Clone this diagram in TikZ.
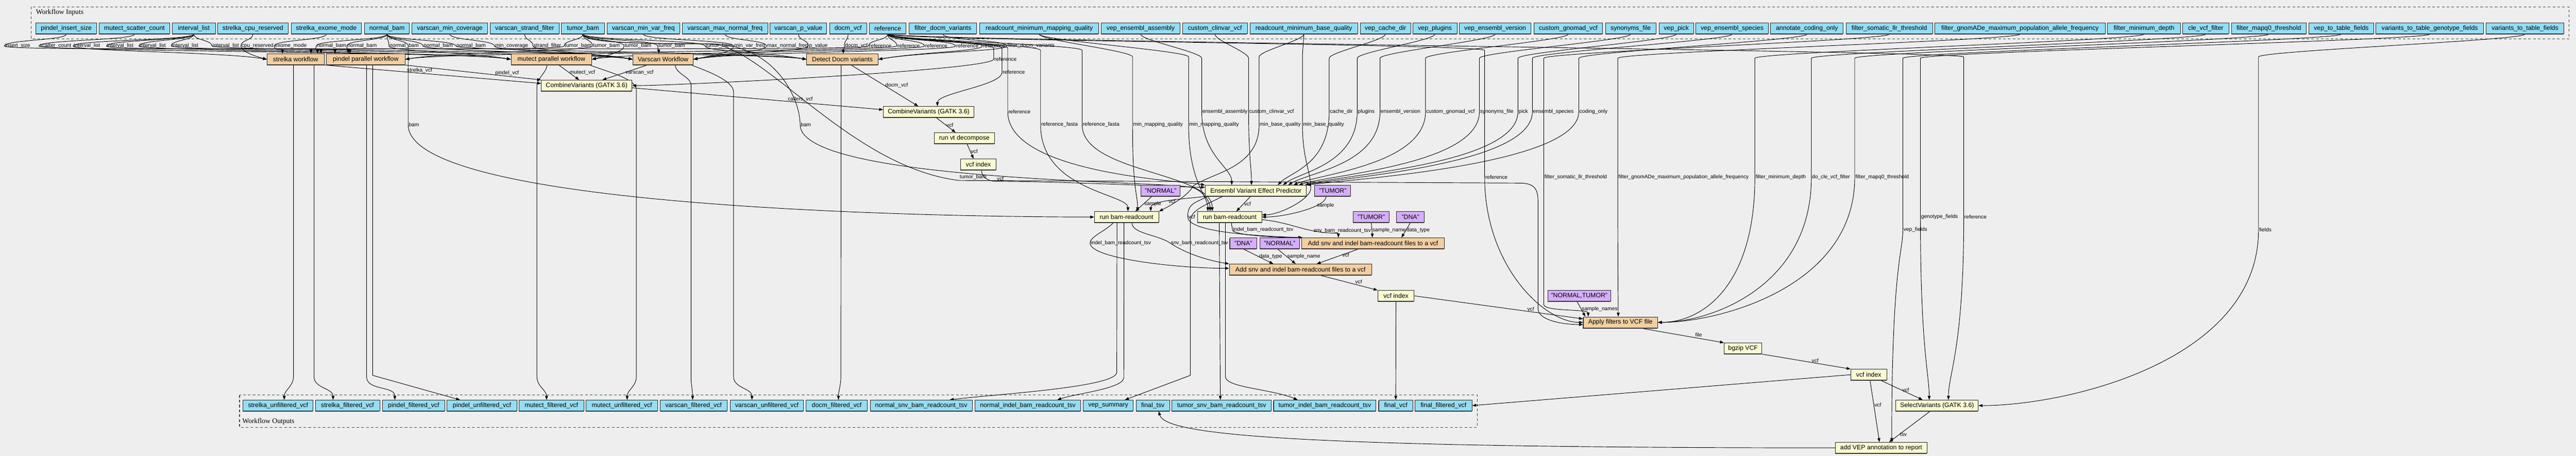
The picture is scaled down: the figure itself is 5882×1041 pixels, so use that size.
\documentclass[tikz,border=0pt]{standalone}
\usepackage{fontspec}
\setmainfont{Liberation Sans}
\newfontfamily\clusterfont{Liberation Serif}
\usetikzlibrary{arrows.meta,shadows}
\definecolor{bgc}{HTML}{EEEEEE}
\definecolor{inblue}{HTML}{94DDF4}
\definecolor{stepyel}{HTML}{FAFAD2}
\definecolor{subor}{HTML}{F3CEA1}
\definecolor{constpur}{HTML}{D5AEFC}
\pgfdeclarelayer{canvas}
\pgfdeclarelayer{wires}
\pgfsetlayers{canvas,wires,main}
\tikzset{
  box/.style={draw=black!85,line width=1.1pt,minimum height=25,inner sep=0pt,
    font=\fontsize{14.5}{16}\selectfont,
    drop shadow={shadow xshift=-0.6pt,shadow yshift=-1.6pt,fill=black!70,opacity=1}},
  inp/.style={box,fill=inblue},
  stepbox/.style={box,fill=stepyel},
  subwf/.style={box,fill=subor},
  constbox/.style={box,fill=constpur},
  conn/.style={line width=1.1pt,-{Stealth[length=9pt,width=6.5pt,inset=0pt]}},
  lab/.style={font=\fontsize{12}{13}\selectfont,inner sep=1pt,anchor=west},
  cluster/.style={draw=black!75,line width=1.3pt,dash pattern=on 6pt off 5pt},
  clab/.style={anchor=west,inner sep=2pt,font=\clusterfont\fontsize{16}{18}\selectfont}
}
\begin{document}
\begin{tikzpicture}[x=1pt,y=1pt]
\useasboundingbox (0,0) rectangle (5882,-1041);
\begin{pgfonlayer}{canvas}
\fill[bgc] (0,0) rectangle (5882,-1041);
\draw[cluster] (71,-15.7) rectangle (5866,-89);
\draw[cluster] (547,-902) rectangle (3373,-976);
\end{pgfonlayer}
\node[clab] (inlabel) at (80,-28) {Workflow Inputs};
\node[clab] (outlabel) at (551,-963) {Workflow Outputs};

% workflow inputs
\foreach \n/\xa/\xb/\txt in {ins/82/221/pindel\_insert\_size, msc/226/388/mutect\_scatter\_count,
  ivl/393/492/interval\_list, scr/497/658/strelka\_cpu\_reserved, sem/665/825/strelka\_exome\_mode,
  nbam/832/935/normal\_bam, vmc/941/1113/varscan\_min\_coverage, vsf/1119/1277/varscan\_strand\_filter,
  tbam/1282/1380/tumor\_bam, vmv/1386/1552/varscan\_min\_var\_freq, vmn/1558/1753/varscan\_max\_normal\_freq,
  vpv/1758/1888/varscan\_p\_value, dvcf/1894/1979/docm\_vcf, ref/1985/2069/reference,
  fdv/2076/2230/filter\_docm\_variants, rmq/2237/2509/readcount\_minimum\_mapping\_quality,
  vea/2515/2694/vep\_ensembl\_assembly, ccv/2700/2848/custom\_clinvar\_vcf,
  rbq/2854/3100/readcount\_minimum\_base\_quality, vcd/3106/3221/vep\_cache\_dir, vpl/3226/3327/vep\_plugins,
  vev/3332/3496/vep\_ensembl\_version, cgv/3503/3659/custom\_gnomad\_vcf, syn/3666/3781/synonyms\_file,
  vpk/3788/3867/vep\_pick, ves/3872/4038/vep\_ensembl\_species, aco/4043/4209/annotate\_coding\_only,
  fsl/4215/4413/filter\_somatic\_llr\_threshold, fga/4418/4807/filter\_gnomADe\_maximum\_population\_allele\_frequency,
  fmd/4812/4979/filter\_minimum\_depth, cle/4984/5089/cle\_vcf\_filter, fmq/5095/5266/filter\_mapq0\_threshold,
  vtf/5272/5420/vep\_to\_table\_fields, vgf/5425/5671/variants\_to\_table\_genotype\_fields,
  vff/5677/5854/variants\_to\_table\_fields}
  \node[inp,minimum width={\xb-\xa}] (\n) at ({(\xa+\xb)/2},-65) {\txt};

% workflow outputs
\foreach \n/\xa/\xb/\txt in {o1/555/715/strelka\_unfiltered\_vcf, o2/720/867/strelka\_filtered\_vcf,
  o3/873/1016/pindel\_filtered\_vcf, o4/1021/1180/pindel\_unfiltered\_vcf, o5/1185/1333/mutect\_filtered\_vcf,
  o6/1338/1502/mutect\_unfiltered\_vcf, o7/1507/1660/varscan\_filtered\_vcf, o8/1667/1835/varscan\_unfiltered\_vcf,
  o9/1841/1980/docm\_filtered\_vcf, o10/1987/2220/normal\_snv\_bam\_readcount\_tsv,
  o11/2226/2468/normal\_indel\_bam\_readcount\_tsv, o12/2473/2588/vep\_summary, o13/2594/2671/final\_tsv,
  o14/2676/2903/tumor\_snv\_bam\_readcount\_tsv, o15/2908/3142/tumor\_indel\_bam\_readcount\_tsv,
  o16/3148/3226/final\_vcf, o17/3231/3361/final\_filtered\_vcf}
  \node[inp,minimum width={\xb-\xa}] (\n) at ({(\xa+\xb)/2},-926) {\txt};

% steps
\node[subwf,minimum width=130] (strelka) at (675,-135.5) {strelka workflow};
\node[subwf,minimum width=180] (pindel) at (835,-135.5) {pindel parallel workflow};
\node[subwf,minimum width=184] (mutect) at (1259,-135.5) {mutect parallel workflow};
\node[subwf,minimum width=138] (varscan) at (1514,-135.5) {Varscan Workflow};
\node[subwf,minimum width=163] (docm) at (1923.5,-135.5) {Detect Docm variants};
\node[stepbox,minimum width=207] (combA) at (1339.5,-195.5) {CombineVariants (GATK 3.6)};
\node[stepbox,minimum width=207] (combB) at (2120.5,-255.5) {CombineVariants (GATK 3.6)};
\node[stepbox,minimum width=138] (decomp) at (2202,-315.5) {run vt decompose};
\node[stepbox,minimum width=82] (idxA) at (2234,-375.5) {vcf index};
\node[stepbox,minimum width=231] (vep) at (2867.5,-435.5) {Ensembl Variant Effect Predictor};
\node[constbox,minimum width=90] (cnA) at (2650,-435.5) {"NORMAL"};
\node[constbox,minimum width=82] (cnB) at (3043,-435.5) {"TUMOR"};
\node[stepbox,minimum width=147] (rcN) at (2572.5,-495.5) {run bam-readcount};
\node[stepbox,minimum width=146] (rcT) at (2808,-495.5) {run bam-readcount};
\node[constbox,minimum width=82] (cnC) at (3131,-495.5) {"TUMOR"};
\node[constbox,minimum width=63] (cnD) at (3220.5,-495.5) {"DNA"};
\node[subwf,minimum width=326] (addT) at (3135,-555.5) {Add snv and indel bam-readcount files to a vcf};
\node[constbox,minimum width=62] (cnE) at (2839,-555.5) {"DNA"};
\node[constbox,minimum width=90] (cnF) at (2922,-555.5) {"NORMAL"};
\node[subwf,minimum width=325] (addN) at (2969.5,-615.5) {Add snv and indel bam-readcount files to a vcf};
\node[stepbox,minimum width=83] (idxB) at (3187.5,-675.5) {vcf index};
\node[constbox,minimum width=144] (cnG) at (3606,-675.5) {"NORMAL,TUMOR"};
\node[subwf,minimum width=170] (filt) at (3700,-736) {Apply filters to VCF file};
\node[stepbox,minimum width=86] (bgz) at (3980,-795.5) {bgzip VCF};
\node[stepbox,minimum width=82] (idxC) at (4267,-855.5) {vcf index};
\node[stepbox,minimum width=188] (sel) at (4423,-926) {SelectVariants (GATK 3.6)};
\node[stepbox,minimum width=209] (rep) at (4295.5,-1022.5) {add VEP annotation to report};

\begin{pgfonlayer}{wires}
% inputs into steps
\foreach \s/\ty/\lx/\ly/\dd/\tg/\dx/\cx/\cy/\lbl in {
  ins/105/10/105/12/pindel.north/-70/0/15/insert\_size,
  msc/105/89/105/12/mutect.west/0/-100/17/scatter\_count,
  ivl/105/167/105/12/strelka.west/0/-100/17/interval\_list,
  ivl/105/243/105/12/pindel.north/-40/0/15/interval\_list,
  ivl/105/317/105/12/mutect.west/0/-100/17/interval\_list,
  ivl/105/391/105/12/varscan.west/0/-100/17/interval\_list,
  ivl/105/484/105/12/docm.west/0/-100/17/interval\_list,
  scr/105/550/105/12/strelka.west/0/-30/8/cpu\_reserved,
  sem/105/626/105/12/strelka.north/-30/0/12/exome\_mode,
  nbam/105/722/105/12/strelka.north/35/0/12/normal\_bam,
  nbam/105/792/105/12/pindel.north/-36/0/12/normal\_bam,
  nbam/105/888/105/12/mutect.west/0/-100/17/normal\_bam,
  nbam/105/966/105/12/varscan.west/0/-100/17/normal\_bam,
  nbam/105/1041/105/12/docm.west/0/-100/17/normal\_bam,
  vmc/105/1129/105/12/varscan.west/0/-100/17/min\_coverage,
  vsf/105/1217/105/12/varscan.west/0/-60/12/strand\_filter,
  tbam/105/1288/105/12/strelka.north/50/0/15/tumor\_bam,
  tbam/105/1353/105/12/pindel.east/0/100/17/tumor\_bam,
  tbam/105/1425/105/12/mutect.east/0/40/10/tumor\_bam,
  tbam/105/1502/105/12/varscan.north/-10/0/12/tumor\_bam,
  tbam/105/1610/105/12/docm.west/0/-100/17/tumor\_bam,
  vmv/105/1675/105/12/varscan.east/0/60/12/min\_var\_freq,
  vmn/105/1750/105/12/varscan.east/0/100/17/max\_normal\_freq,
  vpv/105/1846/105/12/varscan.east/0/100/17/p\_value,
  dvcf/105/1928/105/12/docm.north/2/0/12/docm\_vcf,
  ref/105/1983/105/12/strelka.north/58/0/15/reference,
  ref/105/2048/105/12/pindel.east/0/100/17/reference,
  ref/105/2111/105/12/mutect.east/0/100/17/reference,
  ref/105/2182/105/12/varscan.east/0/100/17/reference,
  ref/105/2243/105/12/docm.east/0/100/17/reference,
  fdv/105/2299/105/12/docm.east/0/100/17/filter\_docm\_variants,
  ref/110/2269/135/25/combA.east/0/100/0/reference,
  ref/110/2288/165/30/combB.north/20/0/30/reference,
  ref/110/2301/255/140/vep.north west/0/-60/10/reference,
  ref/115/2376/285/150/rcN.north/3/0/40/reference\_fasta,
  ref/115/2471/285/110/rcT.north/-40/0/90/reference\_fasta,
  rmq/130/2586/285/150/rcN.north/25/0/40/min\_mapping\_quality,
  rmq/130/2714/285/130/rcT.north/-50/0/35/min\_mapping\_quality,
  vea/133/2744/255/100/vep.north/-55/0/40/ensembl\_assembly,
  ccv/133/2851/255/100/vep.north/-10/0/40/custom\_clinvar\_vcf,
  vcd/133/3035/255/120/vep.north/50/30/30/cache\_dir,
  vpl/133/3099/255/120/vep.north/62/40/30/plugins,
  vev/133/3151/255/120/vep.north/74/50/30/ensembl\_version,
  cgv/133/3255/255/120/vep.north/86/60/25/custom\_gnomad\_vcf,
  syn/133/3378/255/120/vep.north/98/80/25/synonyms\_file,
  vpk/133/3466/255/120/vep.north east/-4/90/25/pick,
  ves/133/3499/255/120/vep.north east/0/100/20/ensembl\_species,
  aco/133/3605/255/120/vep.north east/0/120/15/coding\_only,
  ref/115/3390/405/200/filt.west/0/-90/0/reference,
  fga/133/3694/405/230/filt.north/-5/0/40/filter\_gnomADe\_maximum\_population\_allele\_frequency,
  fmd/133/4007/405/250/filt.east/0/100/0/filter\_minimum\_depth,
  cle/133/4136/405/250/filt.east/0/120/0/do\_cle\_vcf\_filter,
  fmq/133/4235/405/250/filt.east/0/140/0/filter\_mapq0\_threshold,
  vtf/133/4345/525/50/rep.north/24/0/400/vep\_fields,
  vgf/133/4385/495/300/sel.north/-18/0/60/genotype\_fields,
  ref/130/4484/495/300/sel.north/26/0/60/reference,
  vff/130/5157/525/300/sel.east/0/200/0/fields,
  nbam/105/932/285/195/rcN.west/0/-300/0/bam}
  \draw[conn] (\s.south) .. controls +(0,-14) and +(0,14) .. (\lx,-\ty) -- (\lx,-\ly) node[lab]{\lbl}
    .. controls +(0,-\dd) and +(\cx,\cy) .. ([xshift=\dx]\tg);

\draw[conn] (tbam.south) .. controls +(0,-20) and +(-150,0) .. (1620,-100) .. controls +(120,0) and +(-250,30) .. (2190,-412)
  node[lab,anchor=south west]{tumor\_bam} -- (3470,-418) .. controls +(42,0) and +(0,30) .. (3512,-470) -- (3512,-705)
  .. controls +(0,-25) and +(-50,0) .. ([yshift=-5]filt.west);
\draw[conn] (tbam.south) .. controls +(0,-20) and +(-150,0) .. (1620,-100) .. controls +(150,0) and +(0,60) .. (1827,-285)
  node[lab]{bam} .. controls +(0,-130) and +(-60,15) .. (2722,-428) .. controls +(20,-5) and +(0,25) .. ([xshift=-45]rcT.north);
\draw[conn] (rbq.south) .. controls +(0,-14) and +(0,14) .. (2875,-130) -- (2875,-285) node[lab]{min\_base\_quality}
  .. controls +(0,-100) and +(40,30) .. (2724,-425) .. controls +(-10,-20) and +(30,15) .. (rcN.north east);
\draw[conn] (rbq.south) .. controls +(0,-14) and +(0,14) .. (2974,-130) -- (2974,-285) node[lab]{min\_base\_quality}
  .. controls +(0,-80) and +(0,40) .. (2993,-430) .. controls +(0,-25) and +(40,0) .. ([yshift=5]rcT.east);
\draw[conn] (fsl.south) .. controls +(0,-14) and +(0,14) .. (3525,-133) -- (3525,-405) node[lab]{filter\_somatic\_llr\_threshold}
  -- (3525,-695) .. controls +(0,-17) and +(0,18) .. ([xshift=12]filt.north west);

% steps into steps
\draw[conn] (strelka.south east) -- ([yshift=5]combA.west) node[lab,pos=0.44,above=-1pt]{strelka\_vcf};
\draw[conn] (pindel.south east) -- (combA.north west) node[lab,pos=0.75,above]{pindel\_vcf};
\draw[conn] ([xshift=17]mutect.south) -- ([xshift=-17]combA.north) node[lab,midway,right]{mutect\_vcf};
\draw[conn] ([xshift=-36]varscan.south) -- ([xshift=36]combA.north) node[lab,midway,right]{varscan\_vcf};
\draw[conn] ([yshift=-5]combA.east) -- ([yshift=5]combB.west) node[lab,pos=0.67,above]{callers\_vcf};
\draw[conn] ([xshift=20]docm.south) -- ([xshift=-24]combB.north) node[lab,midway,right]{docm\_vcf};
\draw[conn] ([xshift=17]combB.south) -- ([xshift=-20]decomp.north) node[lab,midway,right]{vcf};
\draw[conn] ([xshift=6]decomp.south) -- ([xshift=-11]idxA.north) node[lab,midway,right]{vcf};
\draw[conn] ([xshift=7]idxA.south) .. controls +(0,-15) and +(-20,0) .. (2275,-414) node[lab,anchor=south west]{vcf}
  .. controls +(150,0) and +(-60,0) .. ([yshift=-5]vep.north west);
\draw[conn] (vep.south west) .. controls +(-40,-5) and +(0,25) .. ([xshift=55]rcN.north) node[lab,pos=0.55,right]{vcf};
\draw[conn] ([xshift=-12]vep.south) -- ([xshift=15]rcT.north) node[lab,midway,right]{vcf};
\draw[conn] ([xshift=6]vep.south west) .. controls +(-30,-15) and +(0,30) .. (2712,-495) node[lab]{vcf}
  .. controls +(0,-30) and +(-150,5) .. ([xshift=3]addT.north west);
\draw[conn] ([xshift=-20]cnA.south) -- ([xshift=20]rcN.north) node[lab,midway,right]{sample};
\draw[conn] ([xshift=-15]cnB.south) .. controls +(0,-25) and +(50,0) .. (rcT.east) node[lab,pos=0.3,right]{sample};
\draw[conn] ([xshift=-30]rcN.south) .. controls +(-20,-20) and +(0,15) .. (2489,-555) node[lab]{indel\_bam\_readcount\_tsv}
  .. controls +(0,-35) and +(-120,0) .. ([yshift=3]addN.west);
\draw[conn] ([xshift=12]rcN.south) .. controls +(0,-25) and +(-30,20) .. (2672,-555) node[lab]{snv\_bam\_readcount\_tsv}
  .. controls +(30,-20) and +(-60,10) .. (addN.north west);
\draw[conn] ([xshift=4]rcT.south) .. controls +(0,-10) and +(0,8) .. (2814,-525) node[lab]{indel\_bam\_readcount\_tsv}
  .. controls +(0,-10) and +(-80,0) .. ([xshift=2]addT.north west);
\draw[conn] ([yshift=-6]rcT.east) .. controls +(50,-5) and +(-40,8) .. (2998,-527) node[lab]{snv\_bam\_readcount\_tsv}
  .. controls +(40,-8) and +(0,12) .. ([xshift=-79]addT.north);
\draw[conn] (cnC.south) -- ([xshift=-1]addT.north) node[lab,midway,right]{sample\_name};
\draw[conn] (cnD.south) -- ([xshift=65]addT.north) node[lab,midway,right]{data\_type};
\draw[conn] (cnE.south) -- ([xshift=-62]addN.north) node[lab,midway,right]{data\_type};
\draw[conn] ([xshift=-5]cnF.south) -- ([xshift=-11]addN.north) node[lab,midway,right]{sample\_name};
\draw[conn] ([xshift=-33]addT.south) -- ([xshift=37]addN.north) node[lab,pos=0.4,right]{vcf};
\draw[conn] ([xshift=45]addN.south) -- (idxB.north west) node[lab,pos=0.6,above right]{vcf};
\draw[conn] (idxB.east) -- ([yshift=8]filt.west) node[lab,pos=0.69,above]{vcf};
\draw[conn] ([xshift=-5]cnG.south) -- ([xshift=-80]filt.north) node[lab,midway,right]{sample\_names};
\draw[conn] ([xshift=45]filt.south) -- (bgz.north west) node[lab,pos=0.65,above right]{file};
\draw[conn] (bgz.south east) -- (idxC.north west) node[lab,pos=0.6,above]{vcf};
\draw[conn] ([xshift=-14]idxC.south east) -- ([xshift=-33]sel.north) node[lab,midway,right]{vcf};
\draw[conn] ([xshift=3]idxC.south) -- ([xshift=-4]rep.north) node[lab,pos=0.4,right]{vcf};
\draw[conn] ([xshift=-16]sel.south) -- ([xshift=18]rep.north) node[lab,pos=0.75,right]{tsv};

% steps into outputs
\draw[conn] ([xshift=-5]strelka.south) -- (670,-860) to[out=-90,in=90] ([xshift=14]o1.north);
\draw[conn] ([xshift=42]strelka.south) -- (717,-860) to[out=-90,in=90] ([xshift=-33]o2.north);
\draw[conn] ([xshift=2]pindel.south) -- (837,-860) to[out=-90,in=90] ([xshift=-43]o3.north);
\draw[conn] ([xshift=16]pindel.south) -- (851,-857) -- ([xshift=-50]o4.north);
\draw[conn] ([xshift=-10]mutect.south) .. controls +(0,-15) and +(0,15) .. (1226,-195) -- (1226,-860) to[out=-90,in=90] ([xshift=-11]o5.north);
\draw[conn] ([xshift=-5]mutect.south east) .. controls +(40,-15) and +(0,25) .. (1453,-205) -- (1453,-860) to[out=-90,in=90] ([xshift=12]o6.north);
\draw[conn] ([xshift=28]varscan.south) .. controls +(0,-20) and +(0,20) .. (1578,-195) -- (1578,-860) to[out=-90,in=90] ([xshift=-2]o7.north);
\draw[conn] ([xshift=-5]varscan.south east) .. controls +(40,-15) and +(0,25) .. (1675,-210) -- (1675,-860) to[out=-90,in=90] ([xshift=-34]o8.north);
\draw[conn] ([xshift=-3]docm.south) -- (1920,-860) to[out=-90,in=90] ([xshift=4]o9.north);
\draw[conn] ([xshift=-22]rcN.south) -- (2550,-850) .. controls +(0,-35) and +(90,12) .. ([xshift=65]o10.north);
\draw[conn] ([xshift=-6]rcN.south) -- (2566,-862) .. controls +(0,-25) and +(45,15) .. ([xshift=67]o11.north);
\draw[conn] ([xshift=40]vep.south west) .. controls +(-40,-20) and +(0,25) .. (2718,-505) -- (2718,-857) -- ([xshift=38]o12.north);
\draw[conn] ([xshift=-24]rcT.south) -- ([xshift=-3]o14.north);
\draw[conn] ([xshift=-10]rcT.south) -- (2798,-860) .. controls +(0,-25) and +(-60,25) .. ([xshift=-62]o15.north);
\draw[conn] (idxB.south) -- (o16.north);
\draw[conn] (idxC.west) -- (o17.east);
\draw[conn] (rep.west) .. controls +(-1300,0) and +(15,-50) .. ([xshift=13]o13.south);
\end{pgfonlayer}
\end{tikzpicture}
\end{document}
